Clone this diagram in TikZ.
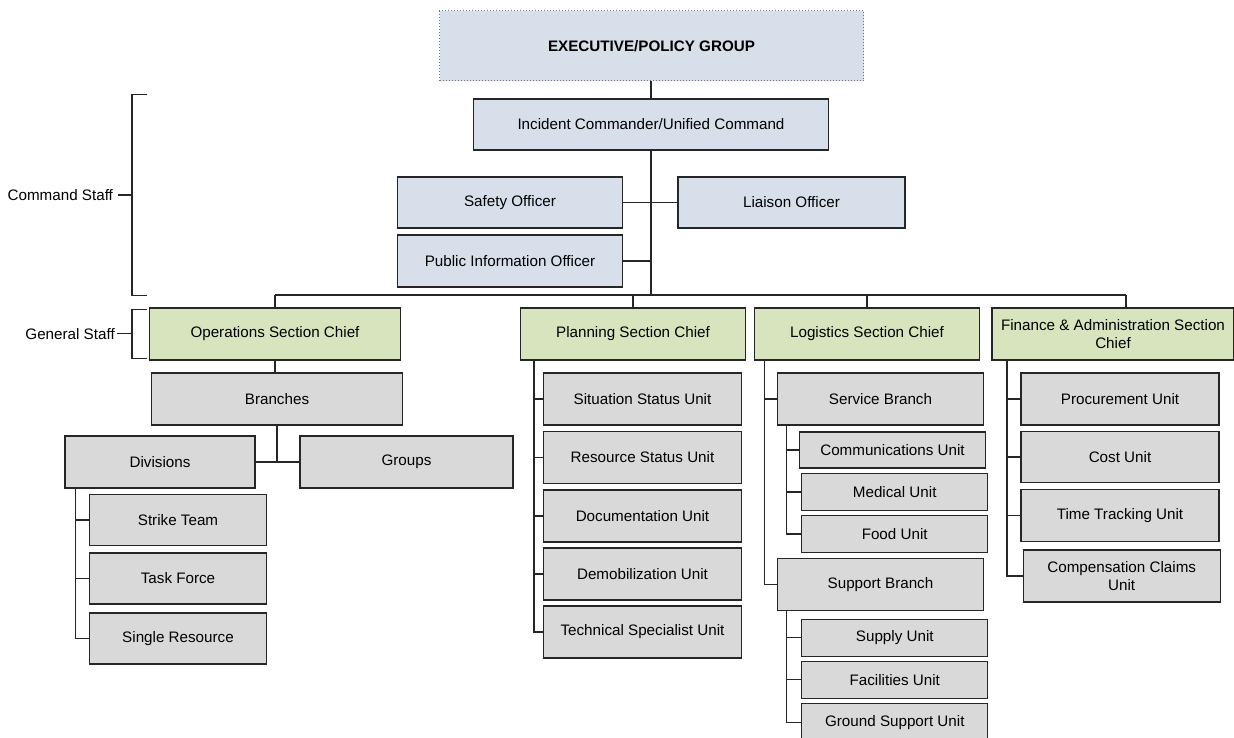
\documentclass[tikz,border=0pt]{standalone}
\usepackage{fontspec}
\setmainfont{Liberation Sans}
\usetikzlibrary{arrows}
\usetikzlibrary{positioning}
\definecolor{cmdfill}{HTML}{D6DFEA}
\definecolor{genfill}{HTML}{D7E4BD}
\definecolor{unitfill}{HTML}{D9D9D9}

\begin{document}
\begin{tikzpicture}
	[x=1pt,y=-1pt,font=\fontsize{15.2}{17.5}\selectfont,line width=1.1pt,draw=black!85,
	every node/.style={draw=black!85,line width=1.3pt,minimum height=52pt,inner sep=2pt,align=center},
	cmd/.style={fill=cmdfill},
	gen/.style={fill=genfill},
	unit/.style={fill=unitfill},
	small/.style={fill=unitfill,minimum height=37pt},
	lbl/.style={draw=none,fill=none,anchor=east,inner sep=0pt,minimum height=0pt}]
	\useasboundingbox (0,0) rectangle (1234,738);
	\node[cmd,draw=black!55,line width=1pt,dash pattern=on 0.9pt off 2.1pt,minimum width=424pt,minimum height=70pt,font=\fontsize{15.2}{17.5}\selectfont\bfseries] (epg) at (651.5,46) {EXECUTIVE/POLICY GROUP};
	\node[cmd,minimum width=355pt,minimum height=51pt] (ic) at (651,124.5) {Incident Commander/Unified Command};
	\node[cmd,minimum width=225pt,minimum height=51pt] (safety) at (510,202.5) {Safety Officer};
	\node[cmd,minimum width=227pt,minimum height=51pt] (liaison) at (791.5,202.5) {Liaison Officer};
	\node[cmd,minimum width=225pt] (pio) at (510,261) {Public Information Officer};
	
	\node[gen,minimum width=251pt] (ops) at (275,334) {Operations Section Chief};
	\node[gen,minimum width=225pt] (plan) at (633,334) {Planning Section Chief};
	\node[gen,minimum width=225pt] (log) at (867,334) {Logistics Section Chief};
	\node[gen,minimum width=242pt] (fin) at (1113,334) {Finance \& Administration Section\\Chief};
	
	\node[unit,minimum width=251pt] (branches) at (277,399) {Branches};
	\node[unit,minimum width=190pt] (divisions) at (160,462) {Divisions};
	\node[unit,minimum width=213pt] (groups) at (406.5,462) {Groups};
	\node[unit,minimum width=177pt,minimum height=51pt] (strike) at (178,520) {Strike Team};
	\node[unit,minimum width=177pt,minimum height=51pt] (task) at (178,578.5) {Task Force};
	\node[unit,minimum width=177pt,minimum height=51pt] (single) at (178,638.5) {Single Resource};
	
	\node[unit,minimum width=198pt] (sit) at (642.5,399) {Situation Status Unit};
	\node[unit,minimum width=198pt] (res) at (642.5,457.5) {Resource Status Unit};
	\node[unit,minimum width=198pt] (doc) at (642.5,516) {Documentation Unit};
	\node[unit,minimum width=198pt] (demob) at (642.5,574) {Demobilization Unit};
	\node[unit,minimum width=198pt] (tech) at (642.5,632) {Technical Specialist Unit};
	
	\node[unit,minimum width=206pt] (service) at (880.5,399) {Service Branch};
	\node[small,minimum width=186pt,minimum height=36pt] (comms) at (892.5,450) {Communications Unit};
	\node[small,minimum width=186pt] (medical) at (894.7,492) {Medical Unit};
	\node[small,minimum width=186pt] (food) at (894.7,534) {Food Unit};
	\node[unit,minimum width=206pt] (support) at (880.5,584.7) {Support Branch};
	\node[small,minimum width=186pt] (supply) at (894.8,637.8) {Supply Unit};
	\node[small,minimum width=186pt] (facil) at (894.8,679.8) {Facilities Unit};
	\node[small,minimum width=186pt] (ground) at (894.8,722.2) {Ground Support Unit};
	
	\node[unit,minimum width=198pt] (proc) at (1120,399) {Procurement Unit};
	\node[unit,minimum width=198pt,minimum height=51pt] (cost) at (1120,457) {Cost Unit};
	\node[unit,minimum width=198pt] (time) at (1120,515.5) {Time Tracking Unit};
	\node[unit,minimum width=197pt] (comp) at (1121.7,576) {Compensation Claims\\Unit};
	
	\node[lbl] (cmdstaff) at (113.6,195) {Command Staff};
	\node[lbl] (genstaff) at (115.4,333.7) {General Staff};
	
	% spines and bus
	\coordinate (trunk) at (651,295);
	\coordinate (busr) at (1126,295);
	\coordinate (dspine) at (75.8,488);
	\coordinate (pspine) at (534,360);
	\coordinate (lspine) at (764.3,360);
	\coordinate (sbspine) at (786.7,425);
	\coordinate (spspine) at (786.7,610.7);
	\coordinate (fspine) at (1007,360);
	
	\draw (ic.north |- epg.south) -- (ic.north);
	\draw (ic.south) -- (trunk);
	\draw (safety.east) -- (liaison.west);
	\draw (pio.east) -- (pio.east -| trunk);
	\draw (ops.north |- trunk) -- (busr);
	\foreach \s in {ops,plan,log}
	\draw (\s.north) -- (\s.north |- trunk);
	\draw (busr) -- (busr |- fin.north);
	
	\draw (ops.south) -- (ops.south |- branches.north);
	\draw (branches.south) -- (branches.south |- groups.west);
	\draw (divisions.east) -- (groups.west);
	\foreach \u in {strike,task,single}
	\draw (dspine) |- (\u.west);
	\foreach \u in {sit,res,doc,demob,tech}
	\draw (pspine) |- (\u.west);
	\foreach \u in {service,support}
	\draw (lspine) |- (\u.west);
	\foreach \u in {comms,medical,food}
	\draw (sbspine) |- (\u.west);
	\foreach \u in {supply,facil,ground}
	\draw (spspine) |- (\u.west);
	\foreach \u in {proc,cost,time,comp}
	\draw (fspine) |- (\u.west);
	
	% staff brackets
	\draw (147,94.3) -- (132,94.3) -- (132,295.7) -- (147,295.7);
	\draw ([xshift=4pt]cmdstaff.east) -- (132,195);
	\draw (147,309.7) -- (132,309.7) -- (132,358.7) -- (147,358.7);
	\draw ([xshift=1.5pt]genstaff.east) -- (132,333.7);
\end{tikzpicture}
\end{document}
